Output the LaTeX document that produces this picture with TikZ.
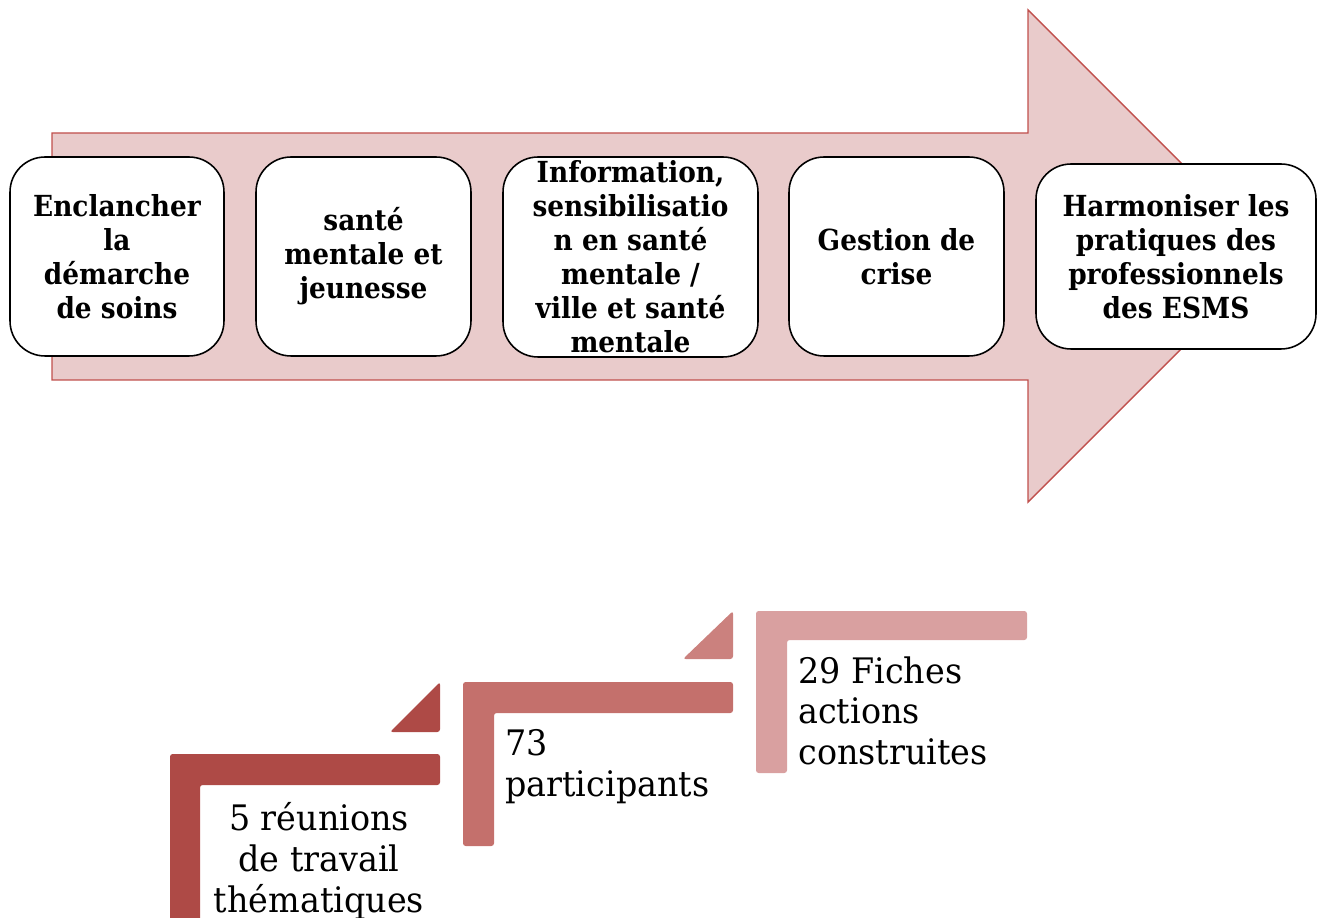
\documentclass[tikz,border=0pt]{standalone}
\usepackage{fontspec}
\setmainfont{DejaVu Serif}[FakeStretch=0.95, BoldFeatures={FakeStretch=0.91}]
\definecolor{arrowfill}{RGB}{233,203,203}
\definecolor{arrowline}{RGB}{192,80,77}
\definecolor{stepA}{RGB}{174,74,70}
\definecolor{stepB}{RGB}{196,112,108}
\definecolor{stepC}{RGB}{217,160,160}
\tikzset{
  stagebox/.style={draw=black, line width=0.9pt, fill=white, rounded corners=0.7cm, align=center, inner sep=0pt,
    font=\fontsize{16.5}{19.35}\selectfont\bfseries},
  steptext/.style={font=\fontsize{20}{23.3}\selectfont, inner sep=0pt},
}
\begin{document}
\begin{tikzpicture}[x=0.02cm,y=-0.02cm]
\useasboundingbox (0,0) rectangle (1322,918);
% big arrow
\draw[fill=arrowfill, draw=arrowline, line width=0.8pt]
  (52,133) -- (1028,133) -- (1028,10) -- (1274,256) -- (1028,502) -- (1028,380) -- (52,380) -- cycle;
% stage boxes
\node[stagebox, minimum width=4.28cm, minimum height=3.98cm] (b1) at (117,256.5)
  {Enclancher\\la\\démarche\\de soins};
\node[stagebox, minimum width=4.30cm, minimum height=3.98cm] (b2) at (363.5,256.5)
  {santé\\mentale et\\jeunesse};
\node[stagebox, minimum width=5.10cm, minimum height=4.00cm] (b3) at (630.5,257)
  {Information,\\sensibilisatio\\n en santé\\mentale /\\ville et santé\\mentale};
\node[stagebox, minimum width=4.30cm, minimum height=3.98cm] (b4) at (896.5,256.5)
  {Gestion de\\crise};
\node[stagebox, minimum width=5.60cm, minimum height=3.70cm] (b5) at (1176,256.5)
  {Harmoniser les\\pratiques des\\professionnels\\des ESMS};
% steps
\fill[stepA, rounded corners=1.5] (170,754) -- (440,754) -- (440,785) -- (200,785) -- (200,930) -- (170,930) -- cycle;
\fill[stepA, rounded corners=1.5] (390,732) -- (440,682) -- (440,732) -- cycle;
\fill[stepB, rounded corners=1.5] (463,682) -- (733,682) -- (733,713) -- (494,713) -- (494,846) -- (463,846) -- cycle;
\fill[stepB!88!white, rounded corners=1.5] (683,659) -- (733,611) -- (733,659) -- cycle;
\fill[stepC, rounded corners=1.5] (756,611) -- (1027,611) -- (1027,640) -- (787,640) -- (787,773) -- (756,773) -- cycle;
% step texts
\node[steptext, align=center, anchor=north] (t1) at (319,802) {5 réunions\\de travail\\thématiques};
\node[steptext, align=left, anchor=north west] (t2) at (505,729) {73\\participants};
\node[steptext, align=left, anchor=north west] (t3) at (798,656) {29 Fiches\\actions\\construites};
\end{tikzpicture}
\end{document}
